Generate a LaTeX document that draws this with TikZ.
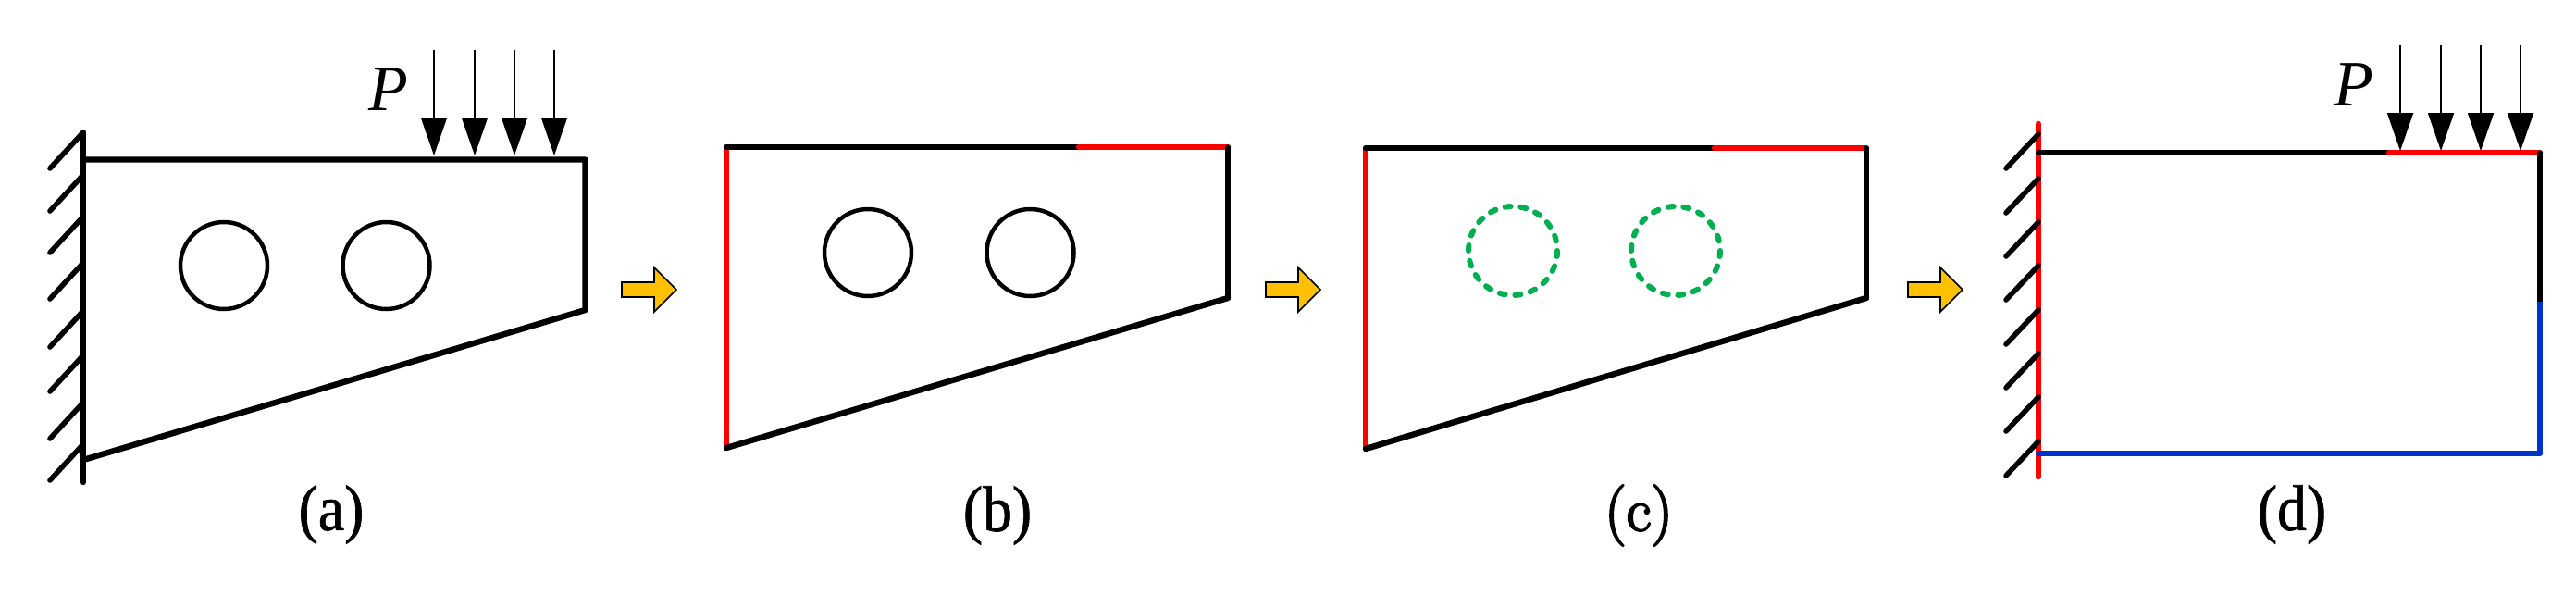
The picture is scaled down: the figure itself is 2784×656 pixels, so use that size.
\documentclass[tikz,border=0pt]{standalone}
\usepackage{fontspec}
\setmainfont{Liberation Serif}
\newfontfamily\labfont[FakeBold=1]{Liberation Serif}
\newfontfamily\lmfont[FakeBold=3]{Latin Modern Roman}
\usetikzlibrary{arrows.meta}
\definecolor{myred}{HTML}{FF0000}
\definecolor{myblue}{HTML}{0033CC}
\definecolor{mygreen}{HTML}{00B050}
\definecolor{myyellow}{HTML}{FFC000}
\tikzset{
  edge/.style={line width=6.4pt,line cap=round,line join=round},
  thinedge/.style={line width=5.4pt,line cap=round,line join=round},
  hatchline/.style={line width=5.6pt,line cap=round},
  hole/.style={line width=4.5pt,draw=black},
  dashedhole/.style={line width=6pt,draw=mygreen,line cap=round,dash pattern=on 6pt off 10.75pt},
  load/.style={line width=2pt,-{Triangle[length=41pt,width=28pt]}},
  lab/.style={font=\fontsize{70}{70}\selectfont\labfont,inner sep=0pt,xscale=0.91},
  loadlab/.style={font=\fontsize{70}{70}\selectfont\itshape,inner sep=0pt},
}
\newcommand{\flowarrow}[1]{%
  \draw[fill=myyellow,draw=black,line width=1.6pt,line join=miter]
    (#1,305)--++(35,0)--++(0,-16)--++(24,24)--++(-24,24)--++(0,-16)--++(-35,0)--cycle;}
\begin{document}
\begin{tikzpicture}[x=1pt,y=-1pt]
\useasboundingbox (0,0) rectangle (2784,656);
% panel a
\foreach \yb in {182,228,273,323,375,423,474,519}
  \draw[hatchline] (54,\yb) -- ++(35,-38);
\draw[edge] (90,143) -- (90,521);
\draw[edge] (90,172.5) -- (632.5,172.5) -- (632.5,335) -- (90,497);
\draw[hole] (242,287) circle (47);
\draw[hole] (417.5,287) circle (47);
\foreach \x in {469,513,556,599}
  \draw[load] (\x,54) -- (\x,168);
\node[loadlab] (pa) at (420,97) {P};
\node[lab] (la) at (358,556) {(a)};
\flowarrow{672}
% panel b
\draw[thinedge,myred] (785,159) -- (785,484);
\draw[edge] (785,159) -- (1166,159);
\draw[edge,myred] (1166,159) -- (1327,159);
\draw[thinedge] (1327,159) -- (1327,322);
\draw[edge] (1327,322) -- (785,484);
\draw[hole] (938,273) circle (47);
\draw[hole] (1113.5,273) circle (47);
\node[lab] (lb) at (1078,557) {(b)};
\flowarrow{1368}
% panel c
\draw[thinedge,myred] (1476,160) -- (1476,485);
\draw[edge] (1476,160) -- (1853,160);
\draw[edge,myred] (1853,160) -- (2017,160);
\draw[thinedge] (2017,160) -- (2017,322);
\draw[edge] (2017,322) -- (1476,485);
\draw[dashedhole] (1635,271) circle (48);
\draw[dashedhole] (1811,271) circle (48);
\node[lab,xscale=1.1,font=\fontsize{66}{66}\selectfont\lmfont] (lc) at (1771,557) {(c)};
\flowarrow{2062}
% panel d
\draw[edge,myred] (2203,134) -- (2203,515);
\foreach \yb in {182,230,277,324,372,419,466,514}
  \draw[hatchline] (2168,\yb) -- ++(35,-37);
\draw[edge] (2203,165) -- (2582,165);
\draw[edge,myred] (2582,165) -- (2745,165);
\draw[thinedge] (2745,165) -- (2745,326);
\draw[thinedge,myblue,line cap=butt] (2745,326) -- (2745,490);
\draw[edge,myblue] (2203,490) -- (2745,490);
\foreach \x in {2594,2638,2681,2724}
  \draw[load] (\x,49) -- (\x,163);
\node[loadlab] (pd) at (2544,92) {P};
\node[lab] (ld) at (2477,556) {(d)};
\end{tikzpicture}
\end{document}
